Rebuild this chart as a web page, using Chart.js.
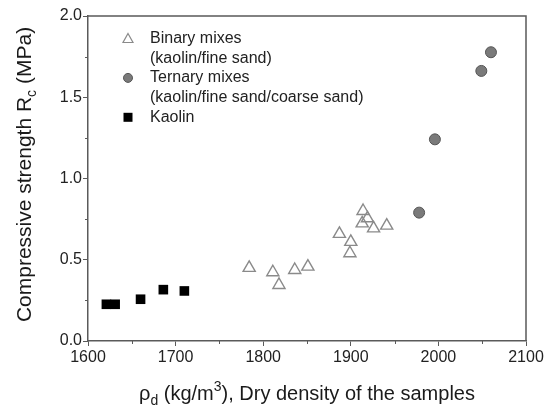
<!DOCTYPE html>
<html>
<head>
<meta charset="utf-8">
<script src="https://cdn.jsdelivr.net/npm/chart.js@4.4.1/dist/chart.umd.min.js"></script>
<style>
html,body{margin:0;padding:0;background:#fff;}
#wrap{width:552px;height:406px;}
</style>
</head>
<body>
<div id="wrap"><canvas id="c" width="552" height="406"></canvas></div>
<script>
// ---- data ----
const binaryX = [1784, 1811, 1818, 1836, 1851, 1887, 1900, 1899, 1914, 1913, 1919, 1926, 1941];
const binaryY = [0.45, 0.423, 0.345, 0.437, 0.458, 0.659, 0.61, 0.54, 0.80, 0.724, 0.755, 0.693, 0.71];
const ternaryX = [1978, 1996, 2049, 2060];
const ternaryY = [0.79, 1.241, 1.662, 1.777];
const kaolinX = [1621, 1631, 1660, 1686, 1710];
const kaolinY = [0.226, 0.226, 0.257, 0.316, 0.308];
const legendLines = [
  ["Binary mixes", "(kaolin/fine sand)"],
  ["Ternary mixes", "(kaolin/fine sand/coarse sand)"],
  ["Kaolin"]
];
const xTicks = [1600, 1700, 1800, 1900, 2000, 2100];
const yTicks = [0.0, 0.5, 1.0, 1.5, 2.0];

function pts(xs, ys){ return xs.map((x,i)=>({x:x, y:ys[i]})); }

const FONT = "'Liberation Sans', Arial, sans-serif";
const AXIS = '#5a5a5a';

const extras = {
  id: 'extras',
  afterDraw(chart){
    const ctx = chart.ctx;
    const a = chart.chartArea;
    const xs = chart.scales.x, ys = chart.scales.y;
    ctx.save();
    // frame top/right
    ctx.strokeStyle = AXIS; ctx.lineWidth = 1.5;
    ctx.beginPath();
    ctx.moveTo(a.left, a.top); ctx.lineTo(a.right, a.top); ctx.lineTo(a.right, a.bottom);
    ctx.stroke();
    // minor ticks
    ctx.lineWidth = 1;
    ctx.beginPath();
    for (let v = 1650; v < 2100; v += 100){
      const px = Math.round(xs.getPixelForValue(v)) + 0.5;
      ctx.moveTo(px, a.bottom); ctx.lineTo(px, a.bottom + 3);
    }
    for (let v = 0.25; v < 2; v += 0.5){
      const py = Math.round(ys.getPixelForValue(v)) + 0.5;
      ctx.moveTo(a.left, py); ctx.lineTo(a.left - 3, py);
    }
    ctx.stroke();

    // axis titles
    ctx.fillStyle = '#1a1a1a';
    // y title
    ctx.save();
    ctx.translate(31, (a.top + a.bottom)/2 - 4);
    ctx.rotate(-Math.PI/2);
    const ybig = "21px " + FONT, ysmall = "14px " + FONT;
    const parts = [["Compressive strength R", ybig, 0], ["c", ysmall, 5], [" (MPa)", ybig, 0]];
    let w = 0;
    parts.forEach(p=>{ ctx.font = p[1]; w += ctx.measureText(p[0]).width; });
    let x = -w/2;
    ctx.textBaseline = 'alphabetic';
    parts.forEach(p=>{ ctx.font = p[1]; ctx.fillText(p[0], x, p[2]); x += ctx.measureText(p[0]).width; });
    ctx.restore();
    // x title
    const big = "20px " + FONT, small = "14px " + FONT;
    const xparts = [["\u03c1", big, 0], ["d", small, 5], [" (kg/m", big, 0], ["3", small, -9], ["), Dry density of the samples", big, 0]];
    w = 0;
    xparts.forEach(p=>{ ctx.font = p[1]; w += ctx.measureText(p[0]).width; });
    x = (a.left + a.right)/2 - w/2;
    const by = 400;
    xparts.forEach(p=>{ ctx.font = p[1]; ctx.fillText(p[0], x, by + p[2]); x += ctx.measureText(p[0]).width; });

    // legend
    ctx.font = "16px " + FONT;
    ctx.textBaseline = 'middle';
    ctx.fillStyle = '#222';
    const lx = 128, tx = 150, lh = 19.7;
    let ly = 38.5;
    chart.data.datasets.forEach((ds, i)=>{
      ctx.save();
      if (ds.pointStyle === 'triangle'){
        ctx.strokeStyle = ds.borderColor; ctx.lineWidth = 1.2; ctx.fillStyle = '#fff';
        ctx.beginPath();
        ctx.moveTo(lx, ly - 5); ctx.lineTo(lx + 5, ly + 4); ctx.lineTo(lx - 5, ly + 4); ctx.closePath();
        ctx.fill(); ctx.stroke();
      } else if (ds.pointStyle === 'circle'){
        ctx.fillStyle = ds.backgroundColor; ctx.strokeStyle = ds.borderColor; ctx.lineWidth = 1;
        ctx.beginPath(); ctx.arc(lx, ly, 4.5, 0, Math.PI*2); ctx.fill(); ctx.stroke();
      } else {
        ctx.fillStyle = ds.backgroundColor;
        ctx.fillRect(lx - 4.5, ly - 4.5, 9, 9);
      }
      ctx.restore();
      legendLines[i].forEach(t=>{ ctx.fillText(t, tx, ly); ly += lh; });
    });
    ctx.restore();
  }
};

new Chart(document.getElementById('c'), {
  type: 'scatter',
  data: {
    datasets: [
      { label: legendLines[0].join(' '), data: pts(binaryX, binaryY), pointStyle: 'triangle',
        pointRadius: 7, pointHoverRadius: 7, borderColor: '#8a8a8a', backgroundColor: 'rgba(255,255,255,0)', borderWidth: 1.4 },
      { label: legendLines[1].join(' '), data: pts(ternaryX, ternaryY), pointStyle: 'circle',
        pointRadius: 5.5, pointHoverRadius: 5.5, borderColor: '#555', backgroundColor: '#7a7a7a', borderWidth: 1 },
      { label: legendLines[2].join(' '), data: pts(kaolinX, kaolinY), pointStyle: 'rect',
        pointRadius: 6.8, pointHoverRadius: 6.8, borderColor: '#000', backgroundColor: '#000', borderWidth: 0 }
    ]
  },
  options: {
    responsive: false,
    animation: false,
    events: [],
    layout: { padding: { left: 0, top: 16, right: 26, bottom: 0 } },
    plugins: { legend: { display: false }, tooltip: { enabled: false } },
    scales: {
      x: {
        type: 'linear', min: 1600, max: 2100,
        afterFit(s){ s.height = 65; },
        afterBuildTicks(s){ s.ticks = xTicks.map(v=>({value:v})); },
        ticks: { font: { size: 16, family: FONT }, color: '#222', padding: 2, maxRotation: 0, callback: v => String(v) },
        grid: { drawOnChartArea: false, drawTicks: true, tickLength: 5, color: AXIS, lineWidth: 1 },
        border: { display: true, color: AXIS, width: 1.5 }
      },
      y: {
        type: 'linear', min: 0, max: 2,
        afterFit(s){ s.width = 88; },
        afterBuildTicks(s){ s.ticks = yTicks.map(v=>({value:v})); },
        ticks: { font: { size: 16, family: FONT }, color: '#222', padding: 1, callback: v => Number(v).toFixed(1) },
        grid: { drawOnChartArea: false, drawTicks: true, tickLength: 5, color: AXIS, lineWidth: 1 },
        border: { display: true, color: AXIS, width: 1.5 }
      }
    }
  },
  plugins: [extras]
});
</script>
</body>
</html>
